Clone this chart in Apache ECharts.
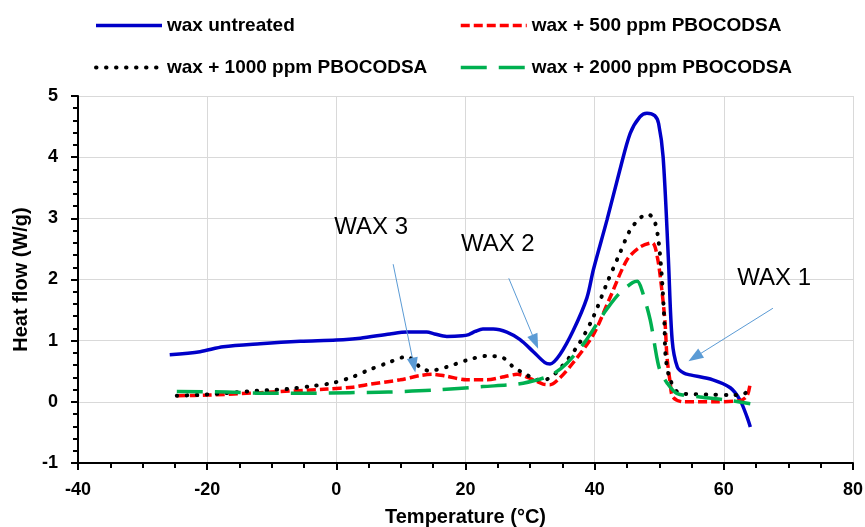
<!DOCTYPE html>
<html>
<head>
<meta charset="utf-8">
<script src="https://cdn.jsdelivr.net/npm/echarts@6/dist/echarts.min.js"></script>
<style>
  html, body { margin: 0; padding: 0; background: #fff; }
  #chart { width: 865px; height: 527px; }
</style>
</head>
<body>
<div id="chart"></div>
<script>
// series names
var seriesNames = ['wax untreated', 'wax + 500 ppm PBOCODSA', 'wax + 1000 ppm PBOCODSA', 'wax + 2000 ppm PBOCODSA'];

// wax untreated
var tempUntreated = [-25.8, -21.1, -17.5, -11.8, -5.6, 0, 3.7, 8.3, 11, 14, 15.2, 17.1, 19.5, 20.5, 21.5, 22.7, 24.3, 26.4, 28.4, 30.5, 32.3, 33.1, 34.6, 36.7, 38.8, 39.8, 41.9, 43.9, 45.5, 47, 48.1, 49.3, 49.9, 50.6, 51.4, 52, 52.8, 53.8, 54.8, 58.3, 61, 62.5, 63.6, 64.1];
var flowUntreated = [0.77, 0.82, 0.9, 0.95, 0.99, 1.01, 1.04, 1.11, 1.14, 1.14, 1.11, 1.07, 1.08, 1.1, 1.15, 1.19, 1.19, 1.14, 1.02, 0.82, 0.64, 0.62, 0.77, 1.17, 1.7, 2.16, 2.97, 3.79, 4.39, 4.66, 4.72, 4.68, 4.55, 4.0, 2.37, 1.01, 0.57, 0.47, 0.44, 0.36, 0.23, 0.03, -0.25, -0.41];

// wax + 500 ppm
var temp500 = [-24.7, -20, -11.8, -1.4, 2.6, 4.7, 9.9, 13, 15, 17, 20.2, 23.3, 26, 28, 30.5, 32, 33.1, 34.5, 36.6, 39.8, 42.4, 45, 47, 48.9, 49.7, 50.4, 50.9, 51.2, 51.7, 52.1, 53.7, 58.3, 62.5, 63.6, 64.1];
var flow500 = [0.1, 0.11, 0.15, 0.21, 0.24, 0.28, 0.36, 0.43, 0.45, 0.42, 0.36, 0.36, 0.41, 0.45, 0.36, 0.29, 0.28, 0.38, 0.63, 1.1, 1.71, 2.32, 2.53, 2.6, 2.37, 1.83, 1.29, 0.73, 0.31, 0.08, 0, 0, 0.02, 0.1, 0.31];

// wax + 1000 ppm
var temp1000 = [-24.7, -20, -13.8, -7.6, -3.6, -0.5, 2.6, 5, 7.8, 11, 12.2, 13.2, 14.5, 17.1, 20.2, 23.3, 25.8, 27.4, 29.5, 31.1, 32.6, 35.1, 37.7, 39.8, 41.9, 43.9, 45.5, 47, 48.1, 49.1, 49.8, 50.4, 50.8, 51, 51.7, 53.2, 57.4, 61.4, 63, 64.1];
var flow1000 = [0.1, 0.12, 0.17, 0.21, 0.26, 0.31, 0.41, 0.52, 0.63, 0.74, 0.65, 0.54, 0.51, 0.57, 0.68, 0.75, 0.72, 0.57, 0.44, 0.36, 0.37, 0.6, 0.97, 1.39, 1.94, 2.43, 2.81, 3.0, 3.07, 3.0, 2.7, 2.04, 1.29, 0.73, 0.36, 0.14, 0.12, 0.11, 0.12, 0.24];

// wax + 2000 ppm
var temp2000 = [-24.7, -17, -10.3, -4, 2.1, 8, 15, 22.7, 28, 31.5, 33.5, 35.7, 38.5, 40.8, 41.9, 43.9, 45.9, 46.6, 47.3, 48.6, 49.6, 50.1, 51.2, 52.7, 56.3, 60.4, 64.1];
var flow2000 = [0.17, 0.16, 0.14, 0.14, 0.15, 0.16, 0.19, 0.25, 0.29, 0.37, 0.45, 0.63, 0.98, 1.35, 1.52, 1.78, 1.95, 1.97, 1.83, 1.34, 0.74, 0.52, 0.31, 0.14, 0.08, 0.03, -0.03];

// annotations: label text, label position, arrow start, arrow end (data units)
var noteNames = ['WAX 3', 'WAX 2', 'WAX 1'];
var notePos = [[5.4, 2.86], [25.0, 2.58], [67.8, 2.02]];
var arrowFrom = [[8.8, 2.25], [26.7, 2.02], [67.6, 1.53]];
var arrowTo = [[12.0, 0.6], [30.8, 0.98], [55.5, 0.73]];

var xTicks = {min: -40, max: 80, interval: 20};
var yTicks = {min: -1, max: 5, interval: 1};

function pairs(xs, ys) {
    return xs.map(function (x, i) { return [x, ys[i]]; });
}

var font = 'Liberation Sans, Arial, sans-serif';

// line looks, shared by series and legend
var styles = [
    {color: '#0000c8', width: 3.5, type: 'solid'},
    {color: '#ff0000', width: 3.5, type: [9, 4]},
    {color: '#000000', width: 4, type: [0.5, 9.5], cap: 'round'},
    {color: '#00b050', width: 3.5, type: [26, 12]}
];

var chart = echarts.init(document.getElementById('chart'));

function makeSeries(i, xs, ys) {
    return {
        type: 'line',
        name: seriesNames[i],
        data: pairs(xs, ys),
        showSymbol: false,
        symbol: 'none',
        smooth: 0.3,
        silent: true,
        color: styles[i].color,
        lineStyle: styles[i]
    };
}

function legendItem(i) {
    return {name: seriesNames[i], lineStyle: styles[i], itemStyle: {opacity: 0}};
}

var legendBase = {
    orient: 'vertical',
    top: 11,
    itemWidth: 66,
    itemHeight: 14,
    itemGap: 23,
    itemStyle: {opacity: 0},
    textStyle: {fontFamily: font, fontSize: 19, fontWeight: 'bold', color: '#000'}
};

var option = {
    animation: false,
    backgroundColor: '#fff',
    grid: {
        left: 78,
        right: 12,
        top: 96,
        bottom: 64,
        outerBoundsMode: 'none'
    },
    legend: [
        Object.assign({}, legendBase, {left: 89, data: [legendItem(0), legendItem(2)]}),
        Object.assign({}, legendBase, {left: 454, data: [legendItem(1), legendItem(3)]})
    ],
    xAxis: {
        type: 'value',
        min: xTicks.min,
        max: xTicks.max,
        interval: xTicks.interval,
        name: 'Temperature (°C)',
        nameLocation: 'middle',
        nameGap: 44,
        nameTextStyle: {fontFamily: font, fontSize: 20, fontWeight: 'bold', color: '#000'},
        axisLine: {onZero: false, lineStyle: {color: '#000', width: 2}},
        axisTick: {show: true, inside: false, length: 7, lineStyle: {color: '#000', width: 2}},
        minorTick: {show: true, splitNumber: 4, length: 5, lineStyle: {color: '#000', width: 2}},
        axisLabel: {margin: 18, fontFamily: font, fontSize: 18, fontWeight: 'bold', color: '#000'},
        splitLine: {show: true, lineStyle: {color: '#d9d9d9', width: 1}}
    },
    yAxis: {
        type: 'value',
        min: yTicks.min,
        max: yTicks.max,
        interval: yTicks.interval,
        name: 'Heat flow (W/g)',
        nameLocation: 'middle',
        nameGap: 40,
        nameTextStyle: {fontFamily: font, fontSize: 20, fontWeight: 'bold', color: '#000'},
        axisLine: {show: true, onZero: false, lineStyle: {color: '#000', width: 2}},
        axisTick: {show: true, inside: false, length: 7, lineStyle: {color: '#000', width: 2}},
        minorTick: {show: true, splitNumber: 5, length: 5, lineStyle: {color: '#000', width: 2}},
        axisLabel: {margin: 20, fontFamily: font, fontSize: 18, fontWeight: 'bold', color: '#000'},
        splitLine: {show: true, lineStyle: {color: '#d9d9d9', width: 1}}
    },
    series: [
        makeSeries(0, tempUntreated, flowUntreated),
        makeSeries(1, temp500, flow500),
        makeSeries(2, temp1000, flow1000),
        makeSeries(3, temp2000, flow2000),
        {
            name: 'notes',
            type: 'line',
            data: [],
            silent: true,
            markLine: {
                silent: true,
                symbol: ['none', 'triangle'],
                symbolSize: [11, 15],
                label: {show: false},
                lineStyle: {color: '#5b9bd5', width: 1, type: 'solid'},
                data: arrowFrom.map(function (p, i) {
                    return [{coord: p}, {coord: arrowTo[i]}];
                })
            },
            markPoint: {
                silent: true,
                symbol: 'circle',
                symbolSize: 0,
                label: {
                    show: true,
                    position: 'inside',
                    formatter: '{b}',
                    fontFamily: font,
                    fontSize: 24,
                    color: '#000'
                },
                data: noteNames.map(function (n, i) {
                    return {name: n, coord: notePos[i]};
                })
            }
        }
    ]
};

chart.setOption(option);
</script>
</body>
</html>
